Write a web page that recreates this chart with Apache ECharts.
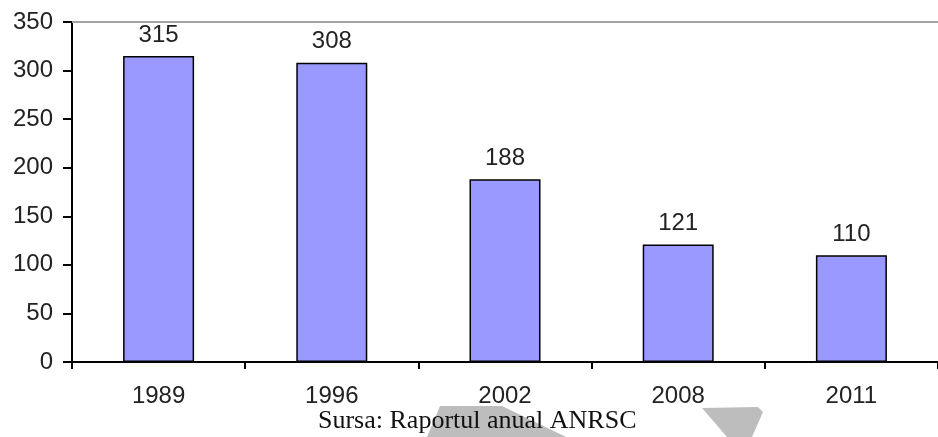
<!DOCTYPE html>
<html>
<head>
<meta charset="utf-8">
<script src="https://cdn.jsdelivr.net/npm/echarts@6/dist/echarts.min.js"></script>
<style>
  html, body { margin: 0; padding: 0; background: #fff; }
  #chart { width: 938px; height: 437px; }
</style>
</head>
<body>
<div id="chart"></div>
<script>
// ani si numar (date)
const years = ['1989', '1996', '2002', '2008', '2011']
const values = [315, 308, 188, 121, 110]
const yTicks = { min: 0, max: 350, interval: 50 }
const sourceText = 'Sursa: Raportul anual ANRSC'

const chart = echarts.init(document.getElementById('chart'))
const labelFont = { fontFamily: 'Liberation Sans, Arial, sans-serif', fontSize: 24, color: '#222' }

const option = {
  animation: false,
  grid: { left: 72, right: -9, top: 22, bottom: 75, containLabel: false },
  xAxis: [
    {
      type: 'category',
      data: years,
      axisLine: { lineStyle: { color: '#000', width: 2 } },
      axisTick: { show: true, length: 7, alignWithLabel: false, lineStyle: { color: '#000', width: 2 } },
      axisLabel: Object.assign({ margin: 22 }, labelFont)
    },
    {
      type: 'category',
      position: 'top',
      data: years,
      axisLine: { lineStyle: { color: '#a3a3a3', width: 2 } },
      axisTick: { show: false },
      axisLabel: { show: false }
    }
  ],
  yAxis: {
    type: 'value',
    min: yTicks.min,
    max: yTicks.max,
    interval: yTicks.interval,
    axisLine: { show: true, lineStyle: { color: '#000', width: 2 } },
    axisTick: { show: true, length: 9, lineStyle: { color: '#000', width: 2 } },
    splitLine: { show: false },
    axisLabel: Object.assign({ margin: 19 }, labelFont)
  },
  series: [
    {
      type: 'bar',
      data: values,
      barWidth: 71,
      itemStyle: { color: '#9999ff', borderColor: '#000', borderWidth: 1.5 },
      label: Object.assign({ show: true, position: 'top', distance: 9 }, labelFont)
    }
  ],
  graphic: [
    // forme gri decorative din scan
    {
      type: 'polygon', z: 1,
      shape: { points: [[440, 406], [502, 406], [566, 437], [427, 437]] },
      style: { fill: '#bdbdbd' }
    },
    {
      type: 'polygon', z: 1,
      shape: { points: [[702, 408], [758, 407], [763, 412], [752, 437], [727, 437]] },
      style: { fill: '#bdbdbd' }
    },
    {
      type: 'text', z: 10,
      left: 318, top: 408,
      style: {
        text: sourceText,
        fill: '#111',
        fontSize: 26,
        fontFamily: 'Liberation Serif, Times New Roman, serif'
      }
    }
  ]
}
chart.setOption(option)
</script>
</body>
</html>
